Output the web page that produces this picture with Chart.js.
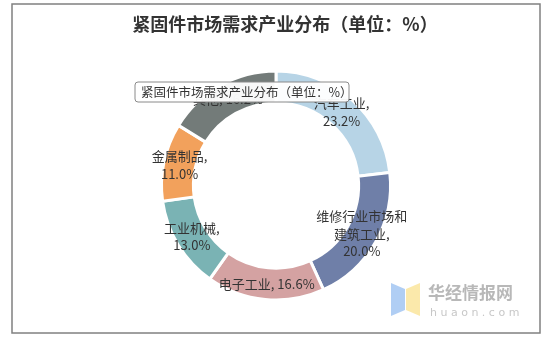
<!DOCTYPE html>
<html>
<head>
<meta charset="utf-8">
<script src="https://cdn.jsdelivr.net/npm/chart.js@4/dist/chart.umd.min.js"></script>
<style>
  html, body { margin: 0; padding: 0; background: #ffffff; }
  #wrap { position: relative; width: 547px; height: 338px; }
</style>
</head>
<body>
<div id="wrap"><canvas id="c"></canvas></div>
<script>
// Demand distribution of the fastener market by downstream industry (%)
const seriesName = '紧固件市场需求产业分布（单位：%）';
const categories = ['汽车工业', '维修行业市场和建筑工业', '电子工业', '工业机械', '金属制品', '其他'];
const shares = [23.2, 20.0, 16.6, 13.0, 11.0, 16.2];
const sliceColors = ['#b7d4e6', '#6f7fa8', '#d4a2a2', '#7ab3b4', '#f2a15c', '#737b79'];
// Line breaks used for each slice label
const labelLines = [
  ['汽车工业,', '23.2%'],
  ['维修行业市场和', '建筑工业,', '20.0%'],
  ['电子工业, 16.6%'],
  ['工业机械,', '13.0%'],
  ['金属制品,', '11.0%'],
  ['其他, 16.2%']
];

const CJK = '"Noto Sans CJK SC", "Noto Sans", sans-serif';

// Outer frame, heading and source mark
const framePlugin = {
  id: 'frame',
  beforeDraw(chart) {
    const ctx = chart.ctx;
    ctx.save();
    ctx.fillStyle = '#ffffff';
    ctx.fillRect(0, 0, chart.width, chart.height);
    ctx.strokeStyle = '#808080';
    ctx.lineWidth = 1.5;
    ctx.strokeRect(12, 4, 528, 329);

    ctx.fillStyle = '#333333';
    ctx.font = 'bold 18px ' + CJK;
    ctx.textAlign = 'center';
    ctx.textBaseline = 'middle';
    ctx.fillText(seriesName, 285, 24);

    // source mark, bottom right
    ctx.fillStyle = 'rgba(150,190,240,0.75)';
    ctx.beginPath();
    ctx.moveTo(391, 283); ctx.lineTo(405, 289); ctx.lineTo(405, 310); ctx.lineTo(391, 316);
    ctx.closePath(); ctx.fill();
    ctx.fillStyle = 'rgba(250,228,150,0.8)';
    ctx.beginPath();
    ctx.moveTo(420, 283); ctx.lineTo(406, 289); ctx.lineTo(406, 310); ctx.lineTo(420, 316);
    ctx.closePath(); ctx.fill();
    ctx.fillStyle = 'rgba(160,160,160,0.75)';
    ctx.font = 'bold 17px ' + CJK;
    ctx.textAlign = 'left';
    ctx.fillText('华经情报网', 428, 293);
    ctx.fillStyle = 'rgba(175,175,175,0.7)';
    ctx.font = '11px "DejaVu Sans", sans-serif';
    ctx.fillText('h u a o n . c o m', 430, 313);
    ctx.restore();
  }
};

// Slice labels at each arc's centroid, then the hover box on top
const labelPlugin = {
  id: 'sliceLabels',
  afterDatasetsDraw(chart) {
    const ctx = chart.ctx;
    const meta = chart.getDatasetMeta(0);
    ctx.save();
    ctx.font = '13px ' + CJK;
    ctx.fillStyle = '#333333';
    ctx.textAlign = 'center';
    ctx.textBaseline = 'middle';
    const lh = 17.5;
    meta.data.forEach((arc, i) => {
      const p = arc.tooltipPosition();
      const lines = labelLines[i];
      const y0 = p.y - (lines.length - 1) * lh / 2;
      lines.forEach((t, k) => ctx.fillText(t, p.x, y0 + k * lh));
    });

    // hover box
    const bx = 135, by = 82, bw = 214, bh = 20, r = 3;
    ctx.beginPath();
    ctx.moveTo(bx + r, by);
    ctx.arcTo(bx + bw, by, bx + bw, by + bh, r);
    ctx.arcTo(bx + bw, by + bh, bx, by + bh, r);
    ctx.arcTo(bx, by + bh, bx, by, r);
    ctx.arcTo(bx, by, bx + bw, by, r);
    ctx.closePath();
    ctx.fillStyle = 'rgba(255,255,255,0.95)';
    ctx.fill();
    ctx.strokeStyle = '#8a8a8a';
    ctx.lineWidth = 1;
    ctx.stroke();
    ctx.fillStyle = '#333333';
    ctx.font = '12.5px ' + CJK;
    ctx.textAlign = 'left';
    ctx.fillText(seriesName, bx + 6, by + bh / 2 + 0.5);
    ctx.restore();
  }
};

new Chart(document.getElementById('c'), {
  type: 'doughnut',
  data: {
    labels: categories,
    datasets: [{
      label: seriesName,
      data: shares,
      backgroundColor: sliceColors,
      hoverBackgroundColor: sliceColors,
      borderColor: '#ffffff',
      hoverBorderColor: '#ffffff',
      borderWidth: 3,
      hoverOffset: 0
    }]
  },
  options: {
    responsive: true,
    maintainAspectRatio: false,
    animation: false,
    events: [],
    radius: 114.5,
    cutout: 85.5,
    layout: { padding: { left: 156, right: 151, top: 65.5, bottom: 32.5 } },
    plugins: {
      legend: { display: false },
      title: { display: false },
      tooltip: { enabled: false }
    }
  },
  plugins: [framePlugin, labelPlugin]
});
</script>
</body>
</html>
